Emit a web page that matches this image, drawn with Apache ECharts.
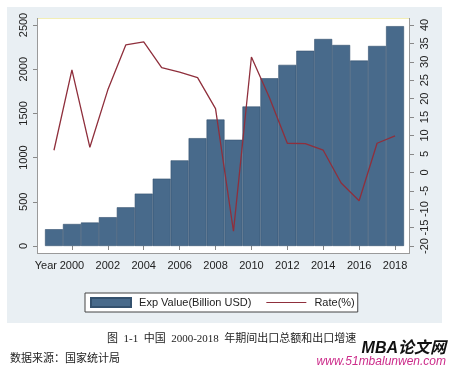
<!DOCTYPE html>
<html>
<head>
<meta charset="utf-8">
<script src="https://cdn.jsdelivr.net/npm/echarts@6/dist/echarts.min.js"></script>
<style>
html,body{margin:0;padding:0;background:#fff;}
#c{width:450px;height:368px;}
</style>
</head>
<body>
<div id="c"></div>
<script>
const years = ['1999','2000','2001','2002','2003','2004','2005','2006','2007','2008','2009','2010','2011','2012','2013','2014','2015','2016','2017','2018'];
const expValue = [190, 249, 266, 326, 438, 593, 762, 969, 1220, 1431, 1202, 1578, 1898, 2049, 2209, 2342, 2274, 2098, 2263, 2487];
const rate = [6.0, 27.8, 6.8, 22.4, 34.6, 35.4, 28.4, 27.2, 25.7, 17.3, -16.0, 31.3, 20.3, 7.9, 7.8, 6.0, -2.9, -7.7, 7.9, 9.9];
const leftTicks = [0, 500, 1000, 1500, 2000, 2500];
const rightTicks = [-20, -15, -10, -5, 0, 5, 10, 15, 20, 25, 30, 35, 40];
const seriesNames = ['Exp Value(Billion USD)', 'Rate(%)'];

const FONT = '"Liberation Sans", Arial, sans-serif';
const CJK = '"Liberation Serif", "Noto Sans CJK SC", serif';
const showEven = (i, v) => (+v) % 2 === 0;
const LINE_COLOR = '#8f2f3c';

const chart = echarts.init(document.getElementById('c'), null, {renderer: 'canvas'});
chart.setOption({
  backgroundColor: '#fff',
  animation: false,
  grid: {left: 45, right: 46, top: 25, bottom: 122},
  legend: {
    left: 85, top: 293,
    padding: [4, 3, 4, 5],
    itemWidth: 40, itemHeight: 9, itemGap: 15,
    backgroundColor: '#fff', borderColor: '#444', borderWidth: 1, borderRadius: 0,
    textStyle: {fontSize: 11, fontFamily: FONT, color: '#222'},
    formatter: n => ' ' + n,
    data: [
      {name: seriesNames[0], icon: 'rect'},
      {name: seriesNames[1], icon: 'path://M0,0L40,0L40,1.2L0,1.2Z', itemStyle: {color: LINE_COLOR}}
    ]
  },
  xAxis: {
    type: 'category', data: years, boundaryGap: true, offset: 7,
    axisLine: {show: false},
    axisTick: {show: true, alignWithLabel: true, interval: showEven, length: 4, lineStyle: {color: '#888'}},
    axisLabel: {interval: showEven, margin: 7, fontSize: 11, fontFamily: FONT, color: '#222'},
    splitLine: {show: false}
  },
  yAxis: [
    {type: 'value', position: 'left', offset: 8,
     min: leftTicks[0], max: leftTicks[leftTicks.length - 1], interval: leftTicks[1] - leftTicks[0],
     axisLine: {show: false},
     axisTick: {show: true, length: 4, lineStyle: {color: '#888'}},
     axisLabel: {rotate: 90, margin: 8, fontSize: 11, fontFamily: FONT, color: '#222', formatter: v => String(v)},
     splitLine: {show: false}},
    {type: 'value', position: 'right', offset: 6,
     min: rightTicks[0], max: rightTicks[rightTicks.length - 1], interval: rightTicks[1] - rightTicks[0],
     axisLine: {show: false},
     axisTick: {show: true, length: 4, lineStyle: {color: '#888'}},
     axisLabel: {rotate: 90, margin: 9, fontSize: 11, fontFamily: FONT, color: '#222', formatter: v => String(v)},
     splitLine: {show: false}}
  ],
  series: [
    {name: seriesNames[0], type: 'bar', yAxisIndex: 0, data: expValue,
     barCategoryGap: '0%',
     itemStyle: {color: '#486a8b', borderColor: '#34516e', borderWidth: 0.6}},
    {name: seriesNames[1], type: 'line', yAxisIndex: 1, data: rate,
     symbol: 'none', z: 5,
     lineStyle: {color: LINE_COLOR, width: 1.3},
     itemStyle: {color: LINE_COLOR}}
  ],
  graphic: [
    {type: 'rect', z: -10, shape: {x: 7, y: 7, width: 435, height: 316}, style: {fill: '#e9eff3'}},
    {type: 'rect', z: -9, shape: {x: 37, y: 18, width: 373, height: 235}, style: {fill: '#ffffff'}},
    {type: 'line', z: -8, shape: {x1: 37, y1: 18.5, x2: 410, y2: 18.5}, style: {stroke: '#f2eeb5', lineWidth: 1}},
    {type: 'line', z: 10, shape: {x1: 37.5, y1: 18, x2: 37.5, y2: 254}, style: {stroke: '#9a9a9a', lineWidth: 1}},
    {type: 'line', z: 10, shape: {x1: 409.5, y1: 18, x2: 409.5, y2: 254}, style: {stroke: '#9a9a9a', lineWidth: 1}},
    {type: 'line', z: 10, shape: {x1: 37, y1: 253.5, x2: 410, y2: 253.5}, style: {stroke: '#9a9a9a', lineWidth: 1}},
    {type: 'text', z: 10, style: {text: 'Year', x: 57, y: 266, align: 'right', verticalAlign: 'middle', fontSize: 11, fontFamily: FONT, fill: '#222'}},
    {type: 'text', z: 10, style: {text: '图  1-1  中国  2000-2018  年期间出口总额和出口增速', x: 107, y: 339, align: 'left', verticalAlign: 'middle', fontSize: 11, fontFamily: CJK, fill: '#222'}},
    {type: 'text', z: 10, style: {text: '数据来源：国家统计局', x: 10, y: 359, align: 'left', verticalAlign: 'middle', fontSize: 11, fontFamily: CJK, fill: '#222'}},
    {type: 'text', z: 10, style: {text: 'MBA论文网', x: 446, y: 349, align: 'right', verticalAlign: 'middle', fontSize: 16, fontWeight: 'bold', fontStyle: 'italic', fontFamily: '"Liberation Sans", "Noto Sans CJK SC", sans-serif', fill: '#111'}},
    {type: 'text', z: 10, style: {text: 'www.51mbalunwen.com', x: 446, y: 362, align: 'right', verticalAlign: 'middle', fontSize: 12, fontStyle: 'italic', fontFamily: FONT, fill: '#cc2b8a'}}
  ]
});
</script>
</body>
</html>
